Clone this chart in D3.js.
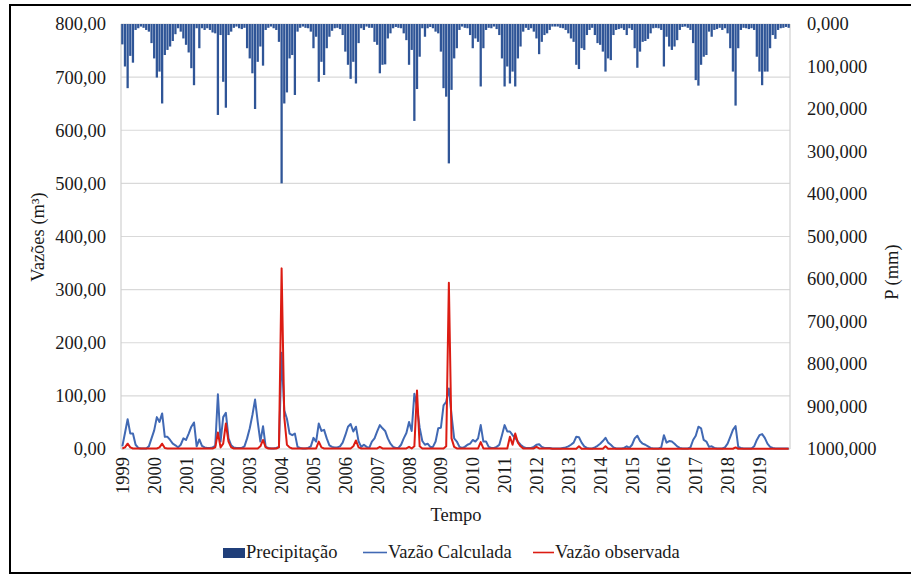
<!DOCTYPE html>
<html>
<head>
<meta charset="utf-8">
<script src="https://cdn.jsdelivr.net/npm/d3@7"></script>
<style>
  body { margin: 0; background: #fff; }
  text { font-family: "Liberation Serif", "Times New Roman", serif; fill: #1a1a1a; }
</style>
</head>
<body>
<svg id="chart" width="911" height="575"></svg>
<script>
// Year labels on the time axis (one tick per January)
const years = ["1999","2000","2001","2002","2003","2004","2005","2006","2007","2008","2009",
               "2010","2011","2012","2013","2014","2015","2016","2017","2018","2019"];

// Monthly precipitation, P (mm), Jan 1999 - Dec 2019
const precipitacao = [
  48,100,151,75,91,14,10,6,9,14,18,45,
  81,126,112,187,73,61,53,40,24,10,18,34,
  49,67,104,144,10,57,10,14,10,14,20,22,
  214,26,136,197,26,18,9,6,10,12,9,57,
  81,116,200,89,53,98,14,9,6,10,14,42,
  375,187,161,81,73,167,18,9,6,9,10,18,
  57,30,136,89,120,57,30,16,10,9,12,26,
  65,96,129,89,140,45,10,14,6,9,9,42,
  49,116,96,95,34,22,10,7,9,10,22,38,
  96,61,228,153,77,10,30,10,7,10,18,22,
  65,151,171,328,155,81,57,14,6,9,10,26,
  57,34,42,147,57,14,9,10,6,12,26,81,
  147,100,140,112,147,81,53,18,9,14,10,18,
  34,71,42,26,22,14,6,6,6,9,10,14,
  22,34,42,96,106,57,61,26,14,9,26,45,
  49,65,112,81,85,26,14,12,10,14,26,10,
  14,57,103,65,42,40,35,22,10,9,10,14,
  100,30,53,61,53,38,14,7,6,9,14,45,
  132,145,96,77,73,18,30,14,12,9,14,10,
  22,57,112,192,57,14,9,10,12,10,14,77,
  112,144,112,112,57,26,35,14,10,9,7,9
];

// Simulated discharge (Vazão Calculada), m³
const vazaoCalculada = [
  5,30,56,29,29,8,2,1,1,1,5,20,
  35,60,51,67,23,23,17,10,7,3,8,20,
  17,29,42,50,5,18,6,3,2,2,3,6,
  103,14,60,68,20,7,3,2,2,2,5,20,
  39,64,93,51,14,43,4,2,1,1,2,4,
  181,73,57,29,26,29,4,2,1,1,2,5,
  21,14,48,34,36,20,7,4,3,3,5,12,
  26,42,47,33,42,14,4,8,4,2,14,20,
  33,45,39,34,20,10,4,2,2,8,20,30,
  51,34,104,79,40,15,8,10,4,4,14,39,
  40,82,89,114,64,20,14,4,2,4,8,10,
  17,14,20,45,14,14,4,2,2,4,8,26,
  45,33,33,26,21,14,8,4,2,2,2,4,
  8,9,4,2,2,2,1,1,1,1,2,3,
  5,8,12,23,22,12,5,2,1,1,3,6,
  10,15,21,12,8,3,1,1,1,2,5,2,
  8,20,25,15,10,8,5,2,1,1,1,3,
  26,12,15,14,10,5,2,1,1,1,3,17,
  25,42,39,17,14,4,5,2,1,1,1,3,
  10,23,36,43,4,2,1,1,1,1,5,17,
  26,28,21,10,4,2,1,1,1,1,1,1
];

// Observed discharge (Vazão observada), m³
const vazaoObservada = [
  1,3,10,3,1,1,1,1,1,1,1,1,
  1,1,3,10,2,1,1,1,1,1,1,1,
  1,1,1,1,1,1,1,1,1,1,1,3,
  31,3,10,48,14,3,1,1,1,1,1,1,
  1,1,1,1,5,17,3,1,1,1,1,3,
  340,60,8,3,1,1,1,1,1,1,1,1,
  1,1,14,3,1,1,1,1,1,1,1,1,
  1,1,1,5,16,3,1,1,1,1,1,1,
  1,4,1,1,1,1,1,1,1,1,1,1,
  4,1,5,110,5,1,1,1,1,1,1,1,
  1,1,5,313,20,4,1,1,1,1,1,1,
  1,1,1,13,1,1,1,1,1,1,1,1,
  1,1,23,8,29,12,5,1,1,1,1,1,
  4,1,1,1,1,1,0.5,0.5,0.5,0.5,0.5,0.5,
  0.5,0.5,0.5,0.5,5,0.5,0.5,0.5,0.5,0.5,0.5,0.5,
  0.5,0.5,5,0.5,0.5,0.5,0.5,0.5,0.5,0.5,0.5,0.5,
  0.5,0.5,0.5,0.5,0.5,0.5,0.5,0.5,0.5,0.5,0.5,0.5,
  0.5,0.5,0.5,0.5,0.5,0.5,0.5,0.5,0.5,0.5,0.5,0.5,
  0.5,0.5,0.5,0.5,0.5,0.5,0.5,0.5,0.5,0.5,0.5,0.5,
  0.5,0.5,0.5,3,0.5,0.5,0.5,0.5,0.5,0.5,0.5,0.5,
  0.5,0.5,0.5,0.5,0.5,0.5,0.5,0.5,0.5,0.5,0.5,0.5
];

// Axis tick values
const vazaoTicks = [0,100,200,300,400,500,600,700,800];
const precTicks = [0,100,200,300,400,500,600,700,800,900,1000];

const months = [];
years.forEach(y => { for (let m = 1; m <= 12; m++) months.push(y + "-" + String(m).padStart(2, "0")); });

const svg = d3.select("#chart");
const plot = { left: 121, right: 790, top: 24, bottom: 449 };

const x = d3.scaleBand().domain(months).range([plot.left, plot.right]).paddingInner(0.14).paddingOuter(0.07);
const yL = d3.scaleLinear().domain([0, 800]).range([plot.bottom, plot.top]);
const yR = d3.scaleLinear().domain([0, 1000]).range([plot.top, plot.bottom]);
const comma = (f) => (d) => d3.format(f)(d).replace(".", ",");

// Frame around the figure
svg.append("rect").attr("x", 10).attr("y", 5).attr("width", 1000).attr("height", 568)
  .attr("fill", "none").attr("stroke", "#000").attr("stroke-width", 2);

// Horizontal gridlines
svg.append("g").selectAll("line").data(vazaoTicks.slice(1)).join("line")
  .attr("x1", plot.left).attr("x2", plot.right)
  .attr("y1", d => yL(d)).attr("y2", d => yL(d))
  .attr("stroke", "#d9d9d9").attr("stroke-width", 1.2);

// Plot edges
svg.append("line").attr("x1", plot.left).attr("x2", plot.left).attr("y1", plot.top).attr("y2", plot.bottom)
  .attr("stroke", "#d0d0d0").attr("stroke-width", 1.2);
svg.append("line").attr("x1", plot.right).attr("x2", plot.right).attr("y1", plot.top).attr("y2", plot.bottom)
  .attr("stroke", "#d0d0d0").attr("stroke-width", 1.2);
svg.append("line").attr("x1", plot.left).attr("x2", plot.right).attr("y1", plot.bottom).attr("y2", plot.bottom)
  .attr("stroke", "#d0d0d0").attr("stroke-width", 1.2);

// Precipitation bars hanging from the top (inverted secondary axis)
svg.append("g").selectAll("rect").data(months).join("rect")
  .attr("x", d => x(d)).attr("y", yR(0))
  .attr("width", x.bandwidth())
  .attr("height", (d, i) => yR(precipitacao[i]) - yR(0))
  .attr("fill", "#2f5597");

// Discharge lines
const cx = d => x(d) + x.bandwidth() / 2;
const line = (vals) => d3.line().x(d => cx(d)).y((d, i) => yL(vals[i]))(months);
svg.append("path").attr("d", line(vazaoCalculada)).attr("fill", "none")
  .attr("stroke", "#4169b4").attr("stroke-width", 2).attr("stroke-linejoin", "round");
svg.append("path").attr("d", line(vazaoObservada)).attr("fill", "none")
  .attr("stroke", "#dc1c13").attr("stroke-width", 2).attr("stroke-linejoin", "round");

// Left axis (Vazões)
const axL = svg.append("g").attr("transform", `translate(${plot.left},0)`)
  .call(d3.axisLeft(yL).tickValues(vazaoTicks).tickFormat(comma(".2f")).tickSize(0).tickPadding(15));
axL.select(".domain").remove();
axL.selectAll("text").style("font-size", "18.5px").style("font-family", "Liberation Serif").attr("fill", "#1a1a1a");

// Right axis (P)
const axR = svg.append("g").attr("transform", `translate(${plot.right},0)`)
  .call(d3.axisRight(yR).tickValues(precTicks).tickFormat(comma(".3f")).tickSize(0).tickPadding(17));
axR.select(".domain").remove();
axR.selectAll("text").style("font-size", "18.5px").style("font-family", "Liberation Serif").attr("fill", "#1a1a1a");

// Time axis: one label per January, rotated
const janMonths = months.filter(m => m.endsWith("-01"));
const axB = svg.append("g").attr("transform", `translate(0,${plot.bottom})`)
  .call(d3.axisBottom(x).tickValues(janMonths).tickFormat(d => d.slice(0, 4)).tickSize(0));
axB.select(".domain").remove();
axB.selectAll("text")
  .attr("transform", "rotate(-90)").attr("x", -8).attr("y", 0).attr("dy", "0.35em")
  .style("text-anchor", "end").style("font-size", "18.5px").style("font-family", "Liberation Serif").attr("fill", "#1a1a1a");

// Axis titles
svg.append("text").attr("transform", "translate(44,237) rotate(-90)").attr("text-anchor", "middle")
  .style("font-size", "18.5px").text("Vazões (m³)");
svg.append("text").attr("transform", "translate(898,272) rotate(-90)").attr("text-anchor", "middle")
  .style("font-size", "18.5px").text("P (mm)");
svg.append("text").attr("x", 456).attr("y", 521).attr("text-anchor", "middle")
  .style("font-size", "18.5px").text("Tempo");

// Legend
const lg = svg.append("g");
lg.append("rect").attr("x", 223).attr("y", 548).attr("width", 22).attr("height", 10).attr("fill", "#203f7a");
lg.append("text").attr("x", 246).attr("y", 558).style("font-size", "18.5px").text("Precipitação");
lg.append("line").attr("x1", 363).attr("x2", 387).attr("y1", 552.5).attr("y2", 552.5)
  .attr("stroke", "#4169b4").attr("stroke-width", 1.6);
lg.append("text").attr("x", 388).attr("y", 558).style("font-size", "18.5px").text("Vazão Calculada");
lg.append("line").attr("x1", 533).attr("x2", 554).attr("y1", 552.5).attr("y2", 552.5)
  .attr("stroke", "#dc1c13").attr("stroke-width", 1.6);
lg.append("text").attr("x", 555).attr("y", 558).style("font-size", "18.5px").text("Vazão observada");
</script>
</body>
</html>
